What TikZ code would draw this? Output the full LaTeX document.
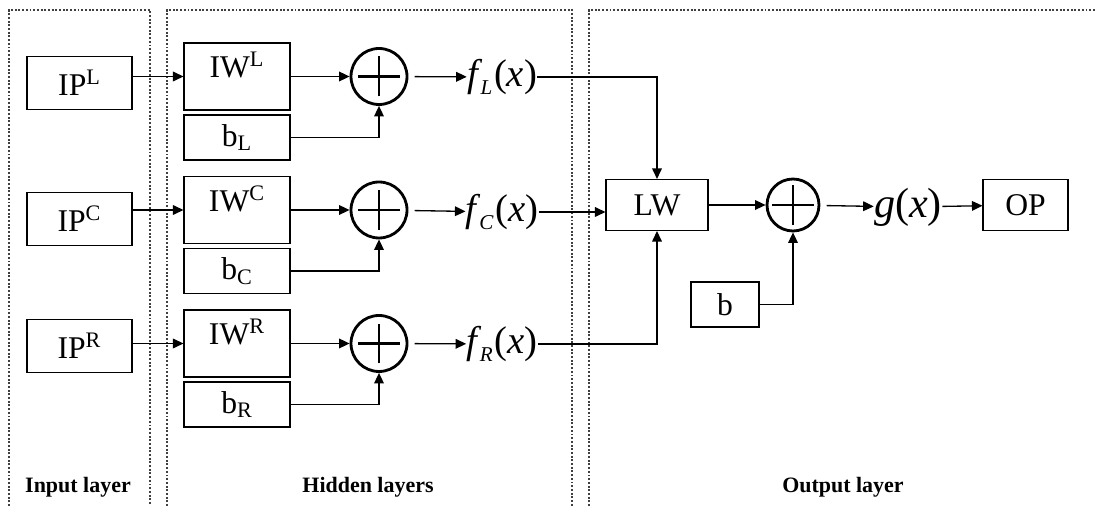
\documentclass[tikz,border=0pt]{standalone}
\usepackage{fontspec}
\setmainfont{Liberation Serif}
\usetikzlibrary{arrows.meta}

\begin{document}
\begin{tikzpicture}[
    x=0.02cm,
    y=-0.02cm,
    >={Triangle[length=6pt,width=5.5pt]},
    font=\fontsize{18}{20}\selectfont,
    layer/.style={
        densely dotted,
        line width=1.1pt,
        black!75
    },
    box/.style={
        draw,
        line width=0.6pt,
        inner sep=0pt,
        minimum width=2.12cm
    },
    wbox/.style={
        box,
        text height=0.7cm,
        text depth=0.64cm
    },
    bbox/.style={
        box,
        minimum height=0.9cm
    },
    ipbox/.style={
        box,
        minimum width=2.1cm,
        minimum height=1.06cm
    },
    sum/.style={
        circle,
        draw,
        line width=1.6pt,
        minimum size=1.12cm,
        inner sep=0pt
    },
    func/.style={
        inner sep=0pt,
        font=\fontsize{22}{24}\selectfont
    },
    arrow/.style={
        ->,
        line width=0.75pt
    },
    title/.style={
        font=\fontsize{12.5}{14}\selectfont\bfseries
    }
]

\useasboundingbox (0,0) rectangle (1096,506);

% Dotted layer frames
\draw[
    layer
] (9,506) -- (9,10) -- (150,10) -- (150,506);

\draw[
    layer
] (167,506) -- (167,10) -- (572,10) -- (572,506);

\draw[
    layer
] (589,506) -- (589,10) -- (1096,10);


% Input layer
\node[ipbox] (ipL) at (79.5,83) {IP\textsuperscript{L}};
\node[ipbox] (ipC) at (79.5,219) {IP\textsuperscript{C}};
\node[ipbox] (ipR) at (79.5,346) {IP\textsuperscript{R}};


% Hidden layers: weights and biases
\node[wbox] (iwL) at (237,76.5) {IW\textsuperscript{L}};
\node[bbox] (bL) at (237,137.5) {b\textsubscript{L}};

\node[wbox] (iwC) at (237,210) {IW\textsuperscript{C}};
\node[bbox] (bC) at (237,271) {b\textsubscript{C}};

\node[wbox] (iwR) at (237,343.5) {IW\textsuperscript{R}};
\node[bbox] (bR) at (237,404.5) {b\textsubscript{R}};

% Hidden layers: summing junctions
\node[sum] (sL) at (379,76.5) {};
\node[sum] (sC) at (379,210) {};
\node[sum] (sR) at (379,343.5) {};

% Hidden layers: outputs
\node[func] (fL) at (502,77)
    {\textit{f}\kern-1pt\raisebox{-0.45ex}{\fontsize{12}{12}\selectfont\textit{L}}\kern1pt(\textit{x})};
\node[func] (fC) at (502,212)
    {\textit{f}\kern-1pt\raisebox{-0.45ex}{\fontsize{12}{12}\selectfont\textit{C}}\kern1pt(\textit{x})};
\node[func] (fR) at (502,344)
    {\textit{f}\kern-1pt\raisebox{-0.45ex}{\fontsize{12}{12}\selectfont\textit{R}}\kern1pt(\textit{x})};


% Output layer
\node[
    box,
    minimum width=2.04cm,
    minimum height=1.02cm
] (lw) at (657,205) {LW};

\node[
    sum,
    minimum size=1.04cm
] (sO) at (793,205) {};

\node[
    box,
    minimum width=1.36cm,
    minimum height=0.9cm
] (b) at (725,304.5) {b};

\node[
    func,
    font=\fontsize{24}{26}\selectfont
] (g) at (908,207) {\textit{g}(\textit{x})};

\node[
    box,
    minimum width=1.7cm,
    minimum height=1.02cm
] (op) at (1025.5,205) {OP};


% Plus signs in the junctions
\foreach \s in {sL,sC,sR,sO} {
    \draw[line width=1.6pt] ([xshift=-0.42cm]\s.center) -- ([xshift=0.42cm]\s.center);
    \draw[line width=1.6pt] ([yshift=-0.4cm]\s.center) -- ([yshift=0.4cm]\s.center);
}


% Connectors, hidden rows
\foreach \r in {L,C,R} {
    \draw[arrow] (ip\r.east |- iw\r.west) -- (iw\r.west);
    \draw[arrow] (iw\r) -- (s\r);
    \draw[arrow] (b\r) -| (s\r);
    \draw[arrow, shorten <=3.5pt] (s\r) -- (f\r);
}

% Connectors, output layer
\draw[arrow] (fL.east) -| (lw.north);
\draw[arrow] (fC.east) -- (fC.east -| lw.west);
\draw[arrow] (fR.east) -| (lw.south);
\draw[arrow] (lw) -- (sO);
\draw[arrow] (b) -| (sO);
\draw[arrow, shorten <=3.5pt] (sO) -- (g);
\draw[arrow] (g) -- (op);


% Layer titles
\node[title] (tin) at (78,487) {Input layer};
\node[title] (thid) at (368,487) {Hidden layers};
\node[title] (tout) at (843,487) {Output layer};

\end{tikzpicture}
\end{document}
